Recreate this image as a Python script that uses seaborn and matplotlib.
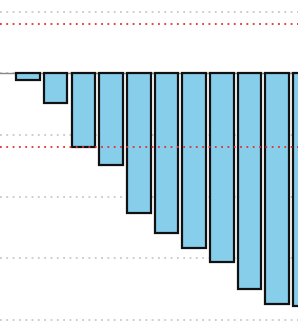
import pandas as pd
import matplotlib
matplotlib.use("Agg")
import matplotlib.pyplot as plt
import seaborn as sns

# values (one grid step = 1 unit)
categories = ["A", "B", "C", "D", "E", "F", "G", "H", "I", "J", "K"]
values = [-0.11, -0.48, -1.19, -1.49, -2.27, -2.59, -2.84, -3.07, -3.50, -3.75, -3.78]
upper_ref = 0.8
lower_ref = -1.2
grid_ticks = [-4, -3, -2, -1, 0, 1]

df = pd.DataFrame({"cat": categories, "val": values})

sns.set_style("white")
fig = plt.figure(figsize=(2.98, 3.24), dpi=100)
ax = fig.add_axes([0, 0, 1, 1])

# grid behind the bars
ax.set_yticks(grid_ticks)
ax.yaxis.grid(True, color="#c8c8c8", linestyle=(0, (1, 2.5)), linewidth=1.3)
ax.set_axisbelow(True)
ax.axhline(0, color="#888888", linewidth=1, zorder=1)

sns.barplot(data=df, x="cat", y="val", color="#87CEEB", saturation=1,
            edgecolor="#111111", linewidth=1.6, width=0.85, ax=ax, zorder=2)

# red reference lines on top
for ref in (upper_ref, lower_ref):
    ax.axhline(ref, color="#e03030", linestyle=(0, (1, 2.5)), linewidth=1.3, zorder=3)

ax.set_xlim(-1.01, 9.75)
ax.set_ylim(-4.073, 1.195)
ax.set_xlabel("")
ax.set_ylabel("")
ax.tick_params(length=0, labelleft=False, labelbottom=False)
for spine in ax.spines.values():
    spine.set_visible(False)

plt.savefig("out.png", dpi=100)
